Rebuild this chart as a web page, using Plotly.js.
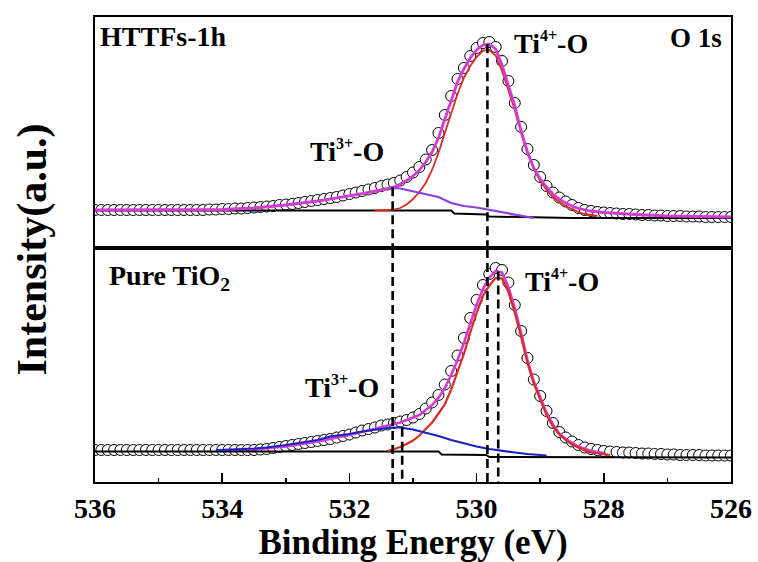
<!DOCTYPE html>
<html><head><meta charset="utf-8">
<script src="https://cdn.plot.ly/plotly-3.0.1.min.js"></script>
<style>html,body{margin:0;padding:0;background:#fff;}</style>
</head><body>
<div id="chart" style="width:758px;height:562px;"></div>
<script>
// Binding energy grid of the measured points (eV)
const energy = [536.0,535.9,535.8,535.7,535.6,535.5,535.4,535.3,535.2,535.1,
535.0,534.9,534.8,534.7,534.6,534.5,534.4,534.3,534.2,534.1,
534.0,533.9,533.8,533.7,533.6,533.5,533.4,533.3,533.2,533.1,
533.0,532.9,532.8,532.7,532.6,532.5,532.4,532.3,532.2,532.1,
532.0,531.9,531.8,531.7,531.6,531.5,531.4,531.3,531.2,531.1,
531.0,530.9,530.8,530.7,530.6,530.5,530.4,530.3,530.2,530.1,
530.0,529.9,529.8,529.7,529.6,529.5,529.4,529.3,529.2,529.1,
529.0,528.9,528.8,528.7,528.6,528.5,528.4,528.3,528.2,528.1,
528.0,527.9,527.8,527.7,527.6,527.5,527.4,527.3,527.2,527.1,
527.0,526.9,526.8,526.7,526.6,526.5,526.4,526.3,526.2,526.1,
526.0];

// HTTFs-1h measured intensity (a.u.)
const httfsData = [38,38,38,38,38,38,38,38,38,38,
38,38,38,38,38,38,38,38,38.5,38.5,
39,39,39.5,39.5,40,40.5,41,41.5,42,43,
43.5,44,45,46,47,48,49,50,51,52.5,
54,55.5,57,58.5,60,62,63.5,65,67.5,71,
75.5,81,88.5,98,115,133,152,169,180,192,
200,205,206,201,187,167,145,121,99,83,
71,62,55.5,50.5,46.5,43,40,38,37,36,
35.5,35,34.5,34,34,33.5,33,33,32.5,32.5,
32,32,32,31.5,31.5,31.5,31,31,31,31,
31];

// Pure TiO2 measured intensity (a.u.)
const pureData = [32,32,32,32,32,32,32,32,32,32,
32,32,32,32,32,32,32,32,32,32,
32,32,32,32,32,32,32.5,33,34,35,
36,37,38,39,40,41,42,43,44.5,46,
47.5,49.5,51.5,53,54.5,56.5,57.5,59,60.5,62,
64.5,68,73.5,79.5,87,97.5,111,126.5,144,164,
182,197,208,214,212,199.5,177,151,124,102.5,
86,71,59,50,44.5,40.5,37,34.5,33,32,
31,30.5,30,29.5,29.5,29,28.5,28.5,28,28,
27.5,27.5,27,27,27,27,26.5,26.5,26.5,26.5,
26.5];

// HTTFs-1h fitted envelope
const httfsSumE = [536.0,535.0,534.0,533.5,533.0,532.5,532.0,531.8,531.6,531.4,531.3,531.2,531.1,531.0,530.9,530.8,530.7,530.6,530.5,530.4,530.3,530.2,530.1,530.0,529.9,529.8,529.7,529.6,529.5,529.4,529.3,529.2,529.1,529.0,528.9,528.8,528.7,528.6,528.5,528.4,528.2,528.0,527.5,527.0,526.5,526.0];
const httfsSum = [38,38,38.5,40,43,47,52,54.5,57,59.5,61,64,67.5,72,78,86,96,110,129,148,166,179,190,198,203,204,199,183,163,142,117,96,80,69,61,54,49,45,42,39.5,37,35.5,33.5,32,31.5,31];

// HTTFs-1h Ti4+-O component
const httfsTi4E = [531.6,531.5,531.4,531.3,531.2,531.1,531.0,530.9,530.8,530.7,530.6,530.5,530.4,530.3,530.2,530.1,530.0,529.9,529.8,529.7,529.6,529.5,529.4,529.3,529.2,529.1,529.0,528.9,528.8,528.7,528.6,528.5,528.4,528.3,528.2,528.1];
const httfsTi4 = [37.5,37.5,38,38.5,40,43.5,49,56,65,78,95,115,135,154,170,182,191,197.5,198,192.5,177,158,138,115,94.5,79,67,58,51,46,42,39,36,34,33,32];

// HTTFs-1h Ti3+-O component
const httfsTi3E = [534.0,533.5,533.0,532.5,532.0,531.8,531.6,531.4,531.3,531.2,531.0,530.8,530.6,530.4,530.2,530.0,529.8,529.6,529.4,529.2,529.1];
const httfsTi3 = [38,40,43,47,52,54.5,57,59,60,59.5,56.5,54,51,45,42,40.5,38,36,33,31,30];

// HTTFs-1h background
const httfsBgE = [536.0,530.4,530.35,529.85,529.8,529.0,528.5,526.0];
const httfsBg = [37.5,37.5,34.5,33.5,31.5,30.5,30,30];

// Pure TiO2 fitted envelope
const pureSumE = [534.0,533.5,533.0,532.5,532.0,531.8,531.6,531.4,531.3,531.2,531.1,531.0,530.9,530.8,530.7,530.6,530.5,530.4,530.3,530.2,530.1,530.0,529.9,529.8,529.7,529.6,529.5,529.4,529.3,529.2,529.1,529.0,528.9,528.8,528.7,528.6,528.5,528.4,528.2,528.0];
const pureSum = [32,32.5,35.5,40.5,47,50,53,56,57.5,59.5,62,64.5,67,72,77,84,94,107,122,139,159,177.5,193,204.5,211,209.5,195,174,149,122,100.5,84.5,69,57.5,48.5,43,39,35.5,31,29];

// Pure TiO2 Ti4+-O component
const pureTi4E = [531.4,531.3,531.2,531.1,531.0,530.9,530.8,530.7,530.6,530.5,530.4,530.3,530.2,530.1,530.0,529.9,529.8,529.7,529.6,529.5,529.4,529.3,529.2,529.1,529.0,528.9,528.8,528.7,528.6,528.5,528.4,528.3,528.2,528.1,528.0,527.9];
const pureTi4 = [31,33,35,38,41.5,46.5,53,59.5,68.5,77.5,92.5,109.5,128,149.5,169,186,196.5,204,203.5,190,169.5,145,119,98,82.5,67,55.5,47.5,42,37.5,34.5,31.5,29.5,28.5,27.5,27];

// Pure TiO2 Ti3+-O component
const pureTi3E = [534.1,534.0,533.5,533.3,533.0,532.5,532.3,532.0,531.8,531.6,531.4,531.3,531.2,531.0,530.8,530.6,530.4,530.2,530.0,529.8,529.6,529.4,529.2,529.0,528.9];
const pureTi3 = [32,32,33.5,34.5,37,42,45.5,48,50.5,52.5,54,54.5,54.5,52.5,49.5,46,42,38.5,35.5,33,31,29.5,28,27,26.5];

// Pure TiO2 background
const pureBgE = [536.0,530.6,530.55,529.85,529.8,526.0];
const pureBg = [30.5,30.5,27.5,27,25,24.5];

// Peak positions marked by dashed lines (eV)
const httfsPeaks = [531.32, 529.83];
const purePeaks = [531.17, 529.66];

const tickVals = [536, 534, 532, 530, 528, 526];
const tickText = ['536', '534', '532', '530', '528', '526'];

function interp(xs, ys, x) {
  for (let i = 0; i < xs.length - 1; i++) {
    const a = xs[i], b = xs[i + 1];
    if ((x <= a && x >= b) || (x >= a && x <= b)) {
      const t = (x - a) / (b - a);
      return ys[i] + t * (ys[i + 1] - ys[i]);
    }
  }
  return ys[ys.length - 1];
}

const FONT = 'Liberation Serif, Times New Roman, serif';
const markerStyle = {symbol: 'circle', size: 11, color: 'white', line: {color: 'black', width: 1}};
const C_SUM = '#d23cd2', C_RED = '#dc2a24', C_PURPLE = '#8a3fe0', C_BLUE = '#1a22c4';

const traces = [
  // top panel (HTTFs-1h)
  {x: energy, y: httfsData, xaxis: 'x2', yaxis: 'y2', mode: 'markers', marker: markerStyle, name: 'HTTFs-1h data'},
  {x: httfsBgE, y: httfsBg, xaxis: 'x2', yaxis: 'y2', mode: 'lines', line: {color: 'black', width: 2}, name: 'bg'},
  {x: httfsTi4E, y: httfsTi4, xaxis: 'x2', yaxis: 'y2', mode: 'lines', line: {color: C_RED, width: 1.8}, name: 'Ti4+-O'},
  {x: httfsTi3E, y: httfsTi3, xaxis: 'x2', yaxis: 'y2', mode: 'lines', line: {color: C_PURPLE, width: 2.2}, name: 'Ti3+-O'},
  {x: httfsSumE, y: httfsSum, xaxis: 'x2', yaxis: 'y2', mode: 'lines', line: {color: C_SUM, width: 2.8}, name: 'fit'},
  // bottom panel (Pure TiO2)
  {x: energy, y: pureData, xaxis: 'x', yaxis: 'y', mode: 'markers', marker: markerStyle, name: 'Pure TiO2 data'},
  {x: pureSumE, y: pureSum, xaxis: 'x', yaxis: 'y', mode: 'lines', line: {color: C_SUM, width: 2.6}, name: 'fit'},
  {x: pureBgE, y: pureBg, xaxis: 'x', yaxis: 'y', mode: 'lines', line: {color: 'black', width: 2}, name: 'bg'},
  {x: pureTi4E, y: pureTi4, xaxis: 'x', yaxis: 'y', mode: 'lines', line: {color: C_RED, width: 2.2}, name: 'Ti4+-O'},
  {x: pureTi3E, y: pureTi3, xaxis: 'x', yaxis: 'y', mode: 'lines', line: {color: C_BLUE, width: 2.2}, name: 'Ti3+-O'}
];

const dashLine = {color: 'black', width: 2.6, dash: '9px,5px'};
const shapes = [];
httfsPeaks.forEach(p => {
  shapes.push({type: 'line', xref: 'x', yref: 'y2', x0: p, x1: p, y0: interp(httfsSumE, httfsSum, p), y1: 0, line: dashLine});
  shapes.push({type: 'line', xref: 'x', yref: 'y domain', x0: p, x1: p, y0: 0, y1: 1, line: dashLine});
});
shapes.push({type: 'line', xref: 'x', yref: 'y', x0: purePeaks[0], x1: purePeaks[0], y0: interp(pureTi3E, pureTi3, purePeaks[0]), y1: 0, line: dashLine});
shapes.push({type: 'line', xref: 'x', yref: 'y', x0: purePeaks[1], x1: purePeaks[1], y0: interp(pureSumE, pureSum, purePeaks[1]), y1: 0, line: dashLine});

function label(text, x, y, xanchor, size) {
  return {text: text, xref: 'paper', yref: 'paper', x: x, y: y, xanchor: xanchor, yanchor: 'middle',
    showarrow: false, font: {family: FONT, size: size, color: 'black', weight: 'bold'}};
}
const sup = s => '<sup><span style="font-size:16px">' + s + '</span></sup>';

const annotations = [
  label('HTTFs-1h', 0.005, 0.959, 'left', 28),
  label('O 1s', 0.989, 0.955, 'right', 27),
  label('Ti' + sup('4+') + '-O', 0.656, 0.945, 'left', 28),
  label('Ti' + sup('3+') + '-O', 0.335, 0.712, 'left', 28),
  label('Pure TiO<sub>2</sub>', 0.019, 0.44, 'left', 28),
  label('Ti' + sup('4+') + '-O', 0.673, 0.432, 'left', 28),
  label('Ti' + sup('3+') + '-O', 0.327, 0.205, 'left', 28),
  {text: 'Intensity(a.u.)', xref: 'paper', yref: 'paper', x: -0.099, y: 0.5, xanchor: 'center', yanchor: 'middle',
   textangle: -90, showarrow: false, font: {family: FONT, size: 42, color: 'black', weight: 'bold'}}
];

const frameAxis = {showline: true, linecolor: 'black', linewidth: 2, mirror: true, showgrid: false, zeroline: false, fixedrange: true};

const layout = {
  width: 758, height: 562,
  margin: {l: 95, r: 27, t: 17, b: 80},
  paper_bgcolor: 'white', plot_bgcolor: 'white',
  showlegend: false,
  xaxis: Object.assign({}, frameAxis, {
    anchor: 'y', range: [536, 526], domain: [0, 1],
    ticks: 'inside', ticklen: 9, tickwidth: 1.5, tickcolor: 'black',
    tickvals: tickVals, ticktext: tickText,
    tickfont: {family: FONT, size: 28, color: 'black', weight: 'bold'},
    ticklabelstandoff: 0,
    minor: {ticks: 'inside', ticklen: 4, tickwidth: 1.5, tickcolor: 'black', dtick: 1, tick0: 527, showgrid: false},
    title: {text: 'Binding Energy (eV)', font: {family: FONT, size: 35, color: 'black', weight: 'bold'}, standoff: 6}
  }),
  yaxis: Object.assign({}, frameAxis, {anchor: 'x', domain: [0, 0.5032], range: [0, 234], showticklabels: false, ticks: ''}),
  xaxis2: Object.assign({}, frameAxis, {anchor: 'y2', matches: 'x', range: [536, 526], showticklabels: false, ticks: ''}),
  yaxis2: Object.assign({}, frameAxis, {anchor: 'x2', domain: [0.5032, 1], range: [0, 231], showticklabels: false, ticks: ''}),
  shapes: shapes,
  annotations: annotations
};

Plotly.newPlot('chart', traces, layout, {staticPlot: true, displayModeBar: false});
</script>
</body></html>
